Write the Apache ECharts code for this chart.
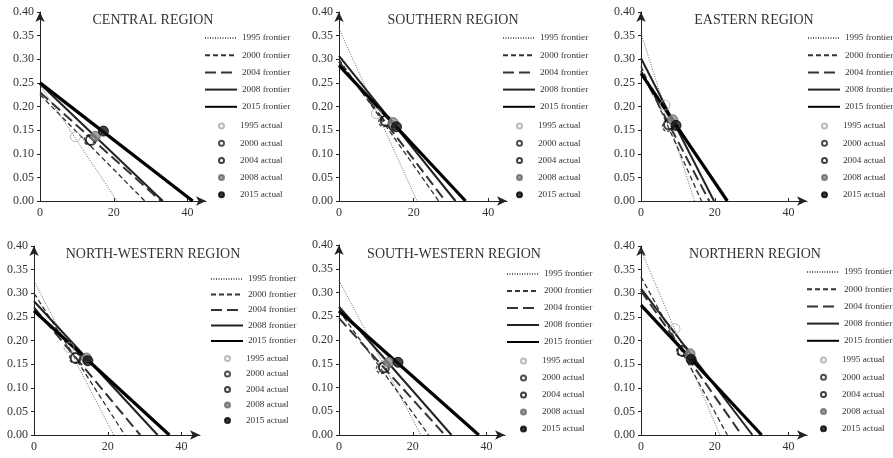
<!DOCTYPE html>
<html>
<head>
<meta charset="utf-8">
<script src="https://cdn.jsdelivr.net/npm/echarts@6/dist/echarts.min.js"></script>
<style>html,body{margin:0;padding:0;background:#fff}#c{width:893px;height:458px}</style>
</head>
<body>
<div id="c"></div>
<script>
// ---- data ----
const regions = ['CENTRAL REGION', 'SOUTHERN REGION', 'EASTERN REGION', 'NORTH-WESTERN REGION', 'SOUTH-WESTERN REGION', 'NORTHERN REGION'];
const years = ['1995', '2000', '2004', '2008', '2015'];
// frontier lines: y-intercept and x-intercept per region, per year
const frontierY0 = [
  [0.245, 0.225, 0.230, 0.248, 0.250],
  [0.365, 0.300, 0.295, 0.307, 0.287],
  [0.355, 0.285, 0.275, 0.302, 0.270],
  [0.326, 0.300, 0.270, 0.283, 0.263],
  [0.325, 0.262, 0.246, 0.270, 0.261],
  [0.391, 0.335, 0.305, 0.310, 0.275]
];
const frontierX0 = [
  [20.9, 28.4, 32.8, 33.3, 41.4],
  [20.9, 26.7, 28.5, 31.2, 33.9],
  [14.5, 16.4, 18.5, 19.8, 23.4],
  [21.6, 24.6, 28.8, 33.5, 36.7],
  [22.2, 24.3, 28.7, 30.5, 37.9],
  [21.4, 23.4, 27.3, 30.2, 32.7]
];
// actual points per region, per year
const actualX = [
  [9.6, 13.3, 13.8, 15.0, 17.2],
  [10.0, 12.0, 12.5, 14.5, 15.4],
  [6.5, 7.2, 7.6, 8.6, 9.5],
  [9.5, 11.0, 11.3, 14.2, 14.6],
  [12.0, 11.5, 12.2, 13.5, 16.0],
  [9.2, 11.0, 11.3, 13.3, 13.6]
];
const actualY = [
  [0.136, 0.129, 0.129, 0.137, 0.148],
  [0.185, 0.168, 0.170, 0.166, 0.157],
  [0.203, 0.158, 0.162, 0.172, 0.160],
  [0.185, 0.163, 0.163, 0.163, 0.157],
  [0.145, 0.140, 0.142, 0.153, 0.153],
  [0.225, 0.178, 0.178, 0.172, 0.160]
];

// ---- layout & styles ----
const FONT = '"Liberation Serif", "Times New Roman", serif';
const grids = [
  {left: 40, top: 12, width: 166, height: 189},
  {left: 339, top: 12, width: 168, height: 189},
  {left: 641, top: 12, width: 166, height: 189},
  {left: 34, top: 246, width: 166, height: 189},
  {left: 339, top: 245, width: 166, height: 190},
  {left: 641, top: 246, width: 166, height: 189}
];
const titlePos = [[153, 13], [453, 13], [754, 13], [153, 247], [454, 247], [755, 247]];
const legendPos = [[204, 38, 17.2], [502, 38, 17.2], [807, 38, 17.2], [210, 279, 15.5], [506, 274, 17.0], [806, 272, 17.2]];
const lineStyles = [
  {color: '#666', width: 1, type: [1, 1.5]},
  {color: '#333', width: 1.3, type: [5, 3]},
  {color: '#333', width: 2, type: [11, 5]},
  {color: '#222', width: 2, type: 'solid'},
  {color: '#000', width: 3.2, type: 'solid'}
];
const pointStyles = [
  {color: 'rgba(255,255,255,0)', borderColor: '#aaa', borderWidth: 1},
  {color: 'rgba(255,255,255,0)', borderColor: '#222', borderWidth: 1.5, borderType: [3, 2]},
  {color: 'rgba(255,255,255,0)', borderColor: '#111', borderWidth: 2},
  {color: '#8a8a8a', borderColor: '#666', borderWidth: 1},
  {color: '#111', borderColor: '#000', borderWidth: 1}
];

const option = {
  animation: false,
  backgroundColor: '#fff',
  title: [], grid: [], xAxis: [], yAxis: [], legend: [], series: []
};

regions.forEach((r, i) => {
  option.title.push({
    text: r, left: titlePos[i][0], top: titlePos[i][1], textAlign: 'center', padding: 0,
    textStyle: {fontFamily: FONT, fontSize: 14, fontWeight: 'normal', color: '#333'}
  });
  option.grid.push(grids[i]);
  option.xAxis.push({
    type: 'value', gridIndex: i, min: 0, max: 45, interval: 20,
    axisLine: {lineStyle: {color: '#222', width: 1}, symbol: ['none', 'arrow'], symbolSize: [7, 10]},
    axisTick: {inside: true, length: 3, lineStyle: {color: '#222'}},
    axisLabel: {showMaxLabel: false, margin: 6, fontFamily: FONT, fontSize: 12, color: '#333'},
    splitLine: {show: false}
  });
  option.yAxis.push({
    type: 'value', gridIndex: i, min: 0, max: 0.4, interval: 0.05,
    axisLine: {show: true, lineStyle: {color: '#222', width: 1}, symbol: ['none', 'arrow'], symbolSize: [7, 10]},
    axisTick: {show: true, length: 3, lineStyle: {color: '#222'}},
    axisLabel: {margin: 6, fontFamily: FONT, fontSize: 12, color: '#333', formatter: v => v.toFixed(2)},
    splitLine: {show: false}
  });
  const [lx, ly, sp] = legendPos[i];
  option.legend.push({
    orient: 'vertical', left: lx, top: ly - 5, padding: 0, itemWidth: 32, itemHeight: 10,
    itemGap: sp - 10, selectedMode: false,
    itemStyle: {opacity: 0},
    textStyle: {fontFamily: FONT, fontSize: 9.2, color: '#333', lineHeight: 10},
    data: years.map(y => y + ' frontier')
  });
  option.legend.push({
    orient: 'vertical', left: lx + 14, top: ly + 5 * sp - 3, padding: 0, itemWidth: 5, itemHeight: 5,
    itemGap: sp - 10, selectedMode: false,
    textStyle: {fontFamily: FONT, fontSize: 9.2, color: '#333', lineHeight: 10, padding: [0, 0, 0, 11]},
    data: years.map(y => y + ' actual')
  });
  years.forEach((y, j) => {
    option.series.push({
      type: 'line', name: y + ' frontier', xAxisIndex: i, yAxisIndex: i,
      data: [[0, frontierY0[i][j]], [frontierX0[i][j], 0]],
      symbol: 'none', silent: true, z: 2,
      itemStyle: {color: lineStyles[j].color},
      lineStyle: lineStyles[j]
    });
  });
  years.forEach((y, j) => {
    option.series.push({
      type: 'scatter', name: y + ' actual', xAxisIndex: i, yAxisIndex: i,
      data: [[actualX[i][j], actualY[i][j]]],
      symbol: 'circle', symbolSize: 10, z: 3 + j, silent: true,
      itemStyle: pointStyles[j]
    });
  });
});

const chart = echarts.init(document.getElementById('c'), null, {renderer: 'canvas'});
chart.setOption(option);
</script>
</body>
</html>
